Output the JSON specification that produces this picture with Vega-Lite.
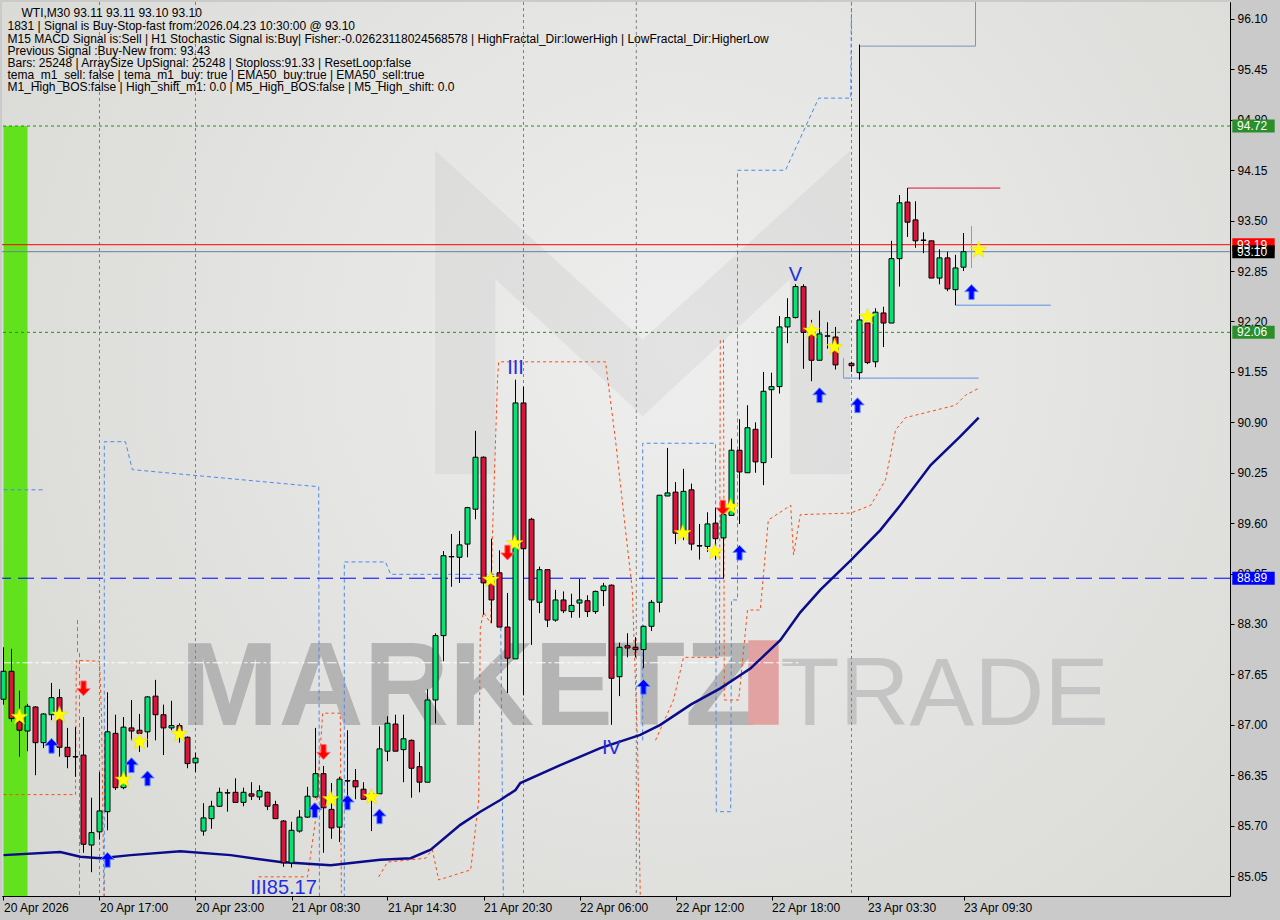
{
 "$schema": "https://vega.github.io/schema/vega-lite/v6.json",
 "width": 1228, "height": 894,
 "autosize": {"type": "none"},
 "padding": {"left": 2, "top": 2, "right": 50, "bottom": 24},
 "background": "#cacaca",
 "config": {
  "view": {"fill": "#d8d8d4", "stroke": "#000000", "strokeWidth": 1},
  "axis": {"grid": false, "domain": false, "labelFont": "Liberation Sans", "labelFontSize": 12, "labelColor": "#000000", "tickColor": "#000000", "tickSize": 4, "titleColor": "transparent", "titleFontSize": 1}
 },
 "datasets": {
  "candles": [
   {"i":0,"o":87.33,"h":88.00,"l":87.26,"c":87.69},{"i":1,"o":87.69,"h":87.98,"l":87.04,"c":87.08},{"i":2,"o":87.04,"h":87.44,"l":86.59,"c":86.93},{"i":3,"o":86.92,"h":87.27,"l":86.66,"c":87.24},{"i":4,"o":87.23,"h":87.24,"l":86.35,"c":86.77},{"i":5,"o":86.77,"h":87.15,"l":86.70,"c":87.14},{"i":6,"o":87.13,"h":87.54,"l":87.06,"c":87.35},{"i":7,"o":87.35,"h":87.46,"l":86.59,"c":86.71},{"i":8,"o":86.71,"h":86.96,"l":86.44,"c":86.59},{"i":9,"o":86.59,"h":86.97,"l":86.33,"c":86.585},
   {"i":10,"o":86.61,"h":87.10,"l":85.35,"c":85.46},{"i":11,"o":85.45,"h":86.06,"l":85.10,"c":85.61},{"i":12,"o":85.62,"h":86.39,"l":85.52,"c":85.89},{"i":13,"o":85.88,"h":87.42,"l":85.64,"c":86.91},{"i":14,"o":86.89,"h":87.13,"l":86.16,"c":86.19},{"i":15,"o":86.19,"h":87.10,"l":86.17,"c":86.97},{"i":16,"o":86.96,"h":87.32,"l":86.80,"c":86.92},{"i":17,"o":86.93,"h":87.14,"l":86.65,"c":86.89},{"i":18,"o":86.91,"h":87.37,"l":86.71,"c":87.36},{"i":19,"o":87.37,"h":87.58,"l":86.80,"c":87.13},
   {"i":20,"o":87.13,"h":87.26,"l":86.61,"c":86.96},{"i":21,"o":86.96,"h":87.31,"l":86.93,"c":86.99},{"i":22,"o":86.99,"h":87.02,"l":86.77,"c":86.92},{"i":23,"o":86.84,"h":86.85,"l":86.44,"c":86.50},{"i":24,"o":86.51,"h":86.64,"l":86.39,"c":86.57},{"i":25,"o":85.63,"h":85.99,"l":85.57,"c":85.80},{"i":26,"o":85.79,"h":86.02,"l":85.66,"c":85.95},{"i":27,"o":85.95,"h":86.19,"l":85.94,"c":86.13},{"i":28,"o":86.12,"h":86.17,"l":85.88,"c":86.125},{"i":29,"o":86.13,"h":86.31,"l":86.00,"c":86.00},
   {"i":30,"o":86.00,"h":86.19,"l":85.95,"c":86.13},{"i":31,"o":86.11,"h":86.26,"l":86.03,"c":86.08},{"i":32,"o":86.07,"h":86.22,"l":86.03,"c":86.15},{"i":33,"o":86.13,"h":86.14,"l":85.90,"c":85.95},{"i":34,"o":85.97,"h":86.02,"l":85.79,"c":85.79},{"i":35,"o":85.76,"h":85.77,"l":85.17,"c":85.22},{"i":36,"o":85.22,"h":85.75,"l":85.16,"c":85.64},{"i":37,"o":85.63,"h":85.90,"l":85.61,"c":85.81},{"i":38,"o":85.81,"h":86.20,"l":85.80,"c":86.08},{"i":39,"o":86.07,"h":86.96,"l":86.06,"c":86.37},
   {"i":40,"o":86.37,"h":86.47,"l":85.35,"c":85.93},{"i":41,"o":85.91,"h":86.25,"l":85.53,"c":85.67},{"i":42,"o":85.68,"h":86.33,"l":85.49,"c":86.30},{"i":43,"o":86.28,"h":86.93,"l":86.04,"c":86.275},{"i":44,"o":86.28,"h":86.43,"l":86.04,"c":86.20},{"i":45,"o":86.17,"h":86.26,"l":86.04,"c":86.04},{"i":46,"o":86.03,"h":86.16,"l":85.63,"c":86.11},{"i":47,"o":86.11,"h":86.98,"l":86.11,"c":86.69},{"i":48,"o":86.66,"h":87.11,"l":86.53,"c":87.02},{"i":49,"o":87.01,"h":87.13,"l":86.66,"c":86.66},
   {"i":50,"o":86.68,"h":87.13,"l":86.26,"c":86.82},{"i":51,"o":86.80,"h":86.81,"l":86.06,"c":86.44},{"i":52,"o":86.46,"h":86.65,"l":86.13,"c":86.26},{"i":53,"o":86.26,"h":87.46,"l":86.26,"c":87.32},{"i":54,"o":87.32,"h":88.18,"l":87.02,"c":88.15},{"i":55,"o":88.15,"h":89.24,"l":87.82,"c":89.18},{"i":56,"o":89.17,"h":89.46,"l":88.78,"c":89.165},{"i":57,"o":89.16,"h":89.50,"l":88.83,"c":89.32},{"i":58,"o":89.33,"h":89.81,"l":89.16,"c":89.80},{"i":59,"o":89.78,"h":90.79,"l":89.65,"c":90.45},
   {"i":60,"o":90.45,"h":90.46,"l":88.42,"c":88.83},{"i":61,"o":88.91,"h":89.40,"l":88.31,"c":88.61},{"i":62,"o":88.96,"h":89.25,"l":88.26,"c":88.26},{"i":63,"o":88.26,"h":88.70,"l":87.41,"c":87.86},{"i":64,"o":87.85,"h":91.45,"l":87.85,"c":91.15},{"i":65,"o":91.15,"h":91.36,"l":87.38,"c":89.27},{"i":66,"o":89.65,"h":89.67,"l":88.03,"c":88.61},{"i":67,"o":88.58,"h":89.04,"l":88.44,"c":89.00},{"i":68,"o":89.00,"h":89.00,"l":88.26,"c":88.35},{"i":69,"o":88.35,"h":88.74,"l":88.33,"c":88.61},
   {"i":70,"o":88.61,"h":88.72,"l":88.44,"c":88.47},{"i":71,"o":88.46,"h":88.69,"l":88.38,"c":88.54},{"i":72,"o":88.57,"h":88.88,"l":88.38,"c":88.61},{"i":73,"o":88.60,"h":88.67,"l":88.39,"c":88.46},{"i":74,"o":88.46,"h":88.73,"l":88.43,"c":88.72},{"i":75,"o":88.73,"h":88.83,"l":88.53,"c":88.79},{"i":76,"o":88.80,"h":88.81,"l":87.00,"c":87.60},{"i":77,"o":87.62,"h":88.06,"l":87.37,"c":88.00},{"i":78,"o":88.02,"h":88.18,"l":87.87,"c":87.99},{"i":79,"o":88.00,"h":88.13,"l":87.87,"c":87.97},
   {"i":80,"o":87.97,"h":88.28,"l":87.73,"c":88.27},{"i":81,"o":88.27,"h":88.61,"l":88.21,"c":88.58},{"i":82,"o":88.58,"h":89.96,"l":88.45,"c":89.96},{"i":83,"o":89.95,"h":90.57,"l":89.95,"c":89.99},{"i":84,"o":90.00,"h":90.13,"l":89.33,"c":89.47},{"i":85,"o":89.47,"h":90.30,"l":89.38,"c":90.01},{"i":86,"o":90.03,"h":90.11,"l":89.25,"c":89.33},{"i":87,"o":89.31,"h":89.59,"l":89.13,"c":89.305},{"i":88,"o":89.30,"h":89.74,"l":89.23,"c":89.59},{"i":89,"o":89.60,"h":89.80,"l":89.13,"c":89.40},
   {"i":90,"o":89.41,"h":89.71,"l":88.89,"c":89.71},{"i":91,"o":89.70,"h":90.69,"l":89.70,"c":90.54},{"i":92,"o":90.54,"h":90.94,"l":89.59,"c":90.26},{"i":93,"o":90.25,"h":91.12,"l":90.25,"c":90.83},{"i":94,"o":90.81,"h":90.90,"l":90.25,"c":90.39},{"i":95,"o":90.38,"h":91.55,"l":90.09,"c":91.30},{"i":96,"o":91.32,"h":91.54,"l":90.44,"c":91.36},{"i":97,"o":91.36,"h":92.27,"l":91.27,"c":92.13},{"i":98,"o":92.13,"h":92.50,"l":91.92,"c":92.25},{"i":99,"o":92.25,"h":92.68,"l":92.24,"c":92.65},
   {"i":100,"o":92.65,"h":92.68,"l":91.59,"c":92.06},{"i":101,"o":92.06,"h":92.22,"l":91.43,"c":91.70},{"i":102,"o":91.70,"h":92.34,"l":91.70,"c":92.04},{"i":103,"o":92.01,"h":92.19,"l":91.85,"c":92.015},{"i":104,"o":92.00,"h":92.13,"l":91.58,"c":91.64},{"i":106,"o":91.66,"h":91.68,"l":91.55,"c":91.63},{"i":107,"o":91.54,"h":95.77,"l":91.45,"c":92.22},{"i":108,"o":92.18,"h":92.18,"l":91.65,"c":91.67},{"i":109,"o":91.68,"h":92.37,"l":91.61,"c":92.32},
   {"i":110,"o":92.31,"h":92.39,"l":91.87,"c":92.18},{"i":111,"o":92.18,"h":93.24,"l":92.18,"c":93.01},{"i":112,"o":93.01,"h":93.83,"l":92.65,"c":93.73},{"i":113,"o":93.74,"h":93.92,"l":93.29,"c":93.48},{"i":114,"o":93.51,"h":93.75,"l":93.15,"c":93.24},{"i":115,"o":93.25,"h":93.35,"l":93.08,"c":93.245},{"i":116,"o":93.24,"h":93.24,"l":92.76,"c":92.76},{"i":117,"o":92.76,"h":93.13,"l":92.68,"c":93.02},{"i":118,"o":93.02,"h":93.10,"l":92.59,"c":92.62},{"i":119,"o":92.61,"h":93.06,"l":92.41,"c":92.89},
   {"i":120,"o":92.90,"h":93.34,"l":92.85,"c":93.10}
  ],
  "ema": [
   {"i":0,"p":85.32},{"i":7.1,"p":85.36},{"i":9.6,"p":85.30},{"i":12.1,"p":85.28},{"i":15.9,"p":85.32},{"i":22.1,"p":85.37},{"i":28.4,"p":85.32},{"i":34.6,"p":85.23},{"i":40.9,"p":85.19},{"i":47.1,"p":85.26},{"i":50.9,"p":85.28},{"i":53.4,"p":85.39},{"i":57.1,"p":85.71},{"i":59.6,"p":85.88},{"i":62.1,"p":86.03},{"i":64,"p":86.16},{"i":64.6,"p":86.25},{"i":69.6,"p":86.48},{"i":74.6,"p":86.70},{"i":79.6,"p":86.87},{"i":82.1,"p":87.0},{"i":85.9,"p":87.26},{"i":89.6,"p":87.47},{"i":93.4,"p":87.73},{"i":97.1,"p":88.09},{"i":99.6,"p":88.45},{"i":102.1,"p":88.74},{"i":105.9,"p":89.12},{"i":109.6,"p":89.51},{"i":112.1,"p":89.83},{"i":115.9,"p":90.35},{"i":119.6,"p":90.72},{"i":121.9,"p":90.96}
  ],
  "blue": [
   {"s":"b1","k":0,"i":0,"p":90.03},{"s":"b1","k":1,"i":4.9,"p":90.03},
   {"s":"b2","k":0,"i":9.25,"p":88.35},{"s":"b2","k":1,"i":9.25,"p":87.93},{"s":"b2","k":2,"i":9.5,"p":87.93},{"s":"b2","k":3,"i":9.5,"p":84.5},
   {"s":"b3","k":0,"i":12.6,"p":84.5},{"s":"b3","k":1,"i":12.6,"p":90.65},{"s":"b3","k":2,"i":15.25,"p":90.65},{"s":"b3","k":3,"i":16.1,"p":90.29},{"s":"b3","k":4,"i":37.1,"p":90.09},{"s":"b3","k":5,"i":39.4,"p":90.07},{"s":"b3","k":6,"i":39.5,"p":84.5},
   {"s":"b4","k":0,"i":42.6,"p":84.5},{"s":"b4","k":1,"i":42.6,"p":89.10},{"s":"b4","k":2,"i":47.75,"p":89.10},{"s":"b4","k":3,"i":48.4,"p":88.94},{"s":"b4","k":4,"i":62.1,"p":88.94},{"s":"b4","k":5,"i":62.5,"p":84.5},
   {"s":"b5","k":0,"i":79.9,"p":86.80},{"s":"b5","k":1,"i":79.9,"p":90.63},{"s":"b5","k":2,"i":89,"p":90.63},{"s":"b5","k":3,"i":89.1,"p":85.88},{"s":"b5","k":4,"i":90.9,"p":85.88},{"s":"b5","k":5,"i":91,"p":88.61},{"s":"b5","k":6,"i":91.75,"p":88.61},{"s":"b5","k":7,"i":91.75,"p":94.15},{"s":"b5","k":8,"i":97.75,"p":94.15},{"s":"b5","k":9,"i":101.9,"p":95.08},{"s":"b5","k":10,"i":105.9,"p":95.08},{"s":"b5","k":11,"i":106,"p":96.4}
  ],
  "orange": [
   {"s":"o1","k":0,"i":0,"p":86.10},{"s":"o1","k":1,"i":9,"p":86.10},{"s":"o1","k":2,"i":9.1,"p":87.83},{"s":"o1","k":3,"i":12,"p":87.82},{"s":"o1","k":4,"i":12.25,"p":87.15},{"s":"o1","k":5,"i":12.6,"p":84.5},
   {"s":"o2","k":0,"i":31.5,"p":84.5},{"s":"o2","k":1,"i":31.9,"p":85.04},{"s":"o2","k":2,"i":38,"p":85.04},{"s":"o2","k":3,"i":39,"p":85.77},{"s":"o2","k":4,"i":39.9,"p":87.15},{"s":"o2","k":5,"i":42.1,"p":87.15},{"s":"o2","k":6,"i":42.25,"p":84.5},
   {"s":"o3","k":0,"i":46.9,"p":85.04},{"s":"o3","k":1,"i":48,"p":85.23},{"s":"o3","k":2,"i":52.75,"p":85.28},{"s":"o3","k":3,"i":53.6,"p":85.39},{"s":"o3","k":4,"i":54.4,"p":85.0},{"s":"o3","k":5,"i":58.4,"p":85.13},{"s":"o3","k":6,"i":59.4,"p":86.03},{"s":"o3","k":7,"i":59.6,"p":88.25},{"s":"o3","k":8,"i":60,"p":88.45},{"s":"o3","k":9,"i":60.9,"p":88.31},{"s":"o3","k":10,"i":61.1,"p":89.38},{"s":"o3","k":11,"i":61.75,"p":91.45},{"s":"o3","k":12,"i":61.9,"p":91.68},{"s":"o3","k":13,"i":75.25,"p":91.68},{"s":"o3","k":14,"i":76.5,"p":90.67},{"s":"o3","k":15,"i":77.75,"p":89.51},{"s":"o3","k":16,"i":78.6,"p":88.74},{"s":"o3","k":17,"i":79.25,"p":86.80},{"s":"o3","k":18,"i":79.6,"p":84.77},
   {"s":"o4","k":0,"i":81.5,"p":86.80},{"s":"o4","k":1,"i":83.75,"p":87.32},{"s":"o4","k":2,"i":85,"p":87.87},{"s":"o4","k":3,"i":89.5,"p":87.87},{"s":"o4","k":4,"i":89.6,"p":91.96},{"s":"o4","k":5,"i":90,"p":91.96},{"s":"o4","k":6,"i":90.1,"p":87.32},{"s":"o4","k":7,"i":91.9,"p":87.32},{"s":"o4","k":8,"i":93,"p":88.48},{"s":"o4","k":9,"i":94.6,"p":88.48},{"s":"o4","k":10,"i":95.6,"p":89.64},{"s":"o4","k":11,"i":98.4,"p":89.83},{"s":"o4","k":12,"i":98.75,"p":89.19},{"s":"o4","k":13,"i":99.6,"p":89.71},{"s":"o4","k":14,"i":105.9,"p":89.73},{"s":"o4","k":15,"i":108.4,"p":89.83},{"s":"o4","k":16,"i":110.25,"p":90.16},{"s":"o4","k":17,"i":111.5,"p":90.80},{"s":"o4","k":18,"i":112.75,"p":90.96},{"s":"o4","k":19,"i":119,"p":91.12},{"s":"o4","k":20,"i":120.25,"p":91.25},{"s":"o4","k":21,"i":121.9,"p":91.34}
  ],
  "stars": [
   {"i":2,"p":87.10},{"i":7,"p":87.13},{"i":15,"p":86.29},{"i":17,"p":86.78},{"i":22,"p":86.88},{"i":40.9,"p":86.04},{"i":46,"p":86.07},{"i":60.9,"p":88.87},{"i":63.9,"p":89.34},{"i":84.9,"p":89.47},{"i":88.9,"p":89.23},{"i":90.9,"p":89.81},{"i":101,"p":92.08},{"i":103.9,"p":91.87},{"i":108,"p":92.26},{"i":121.9,"p":93.12}
  ],
  "up": [
   {"i":6,"p":86.73},{"i":16,"p":86.48},{"i":18,"p":86.31},{"i":13,"p":85.26},{"i":38.9,"p":85.90},{"i":43,"p":86.00},{"i":47,"p":85.82},{"i":80,"p":87.49},{"i":92,"p":89.22},{"i":102,"p":91.25},{"i":106.75,"p":91.12},{"i":121,"p":92.58}
  ],
  "down": [
   {"i":10,"p":87.47},{"i":40,"p":86.65},{"i":63,"p":89.22},{"i":89.9,"p":89.80}
  ],
  "boxes": [
   {"p":94.72,"t":"94.72","k":"green"},{"p":93.19,"t":"93.19","k":"red"},{"p":93.10,"t":"93.10","k":"black"},{"p":92.06,"t":"92.06","k":"green"},{"p":88.89,"t":"88.89","k":"blue"}
  ]
 },
 "layer": [
  {
   "data": {"name": "candles"},
   "mark": {"type": "rule", "color": "#000000", "strokeWidth": 1, "opacity": 0},
   "encoding": {
    "x": {"field": "i", "type": "quantitative", "scale": {"domain": [-0.1875, 153.3125], "nice": false, "zero": false, "padding": 0},
     "axis": {"orient": "bottom", "title": null, "values": [0, 12, 24, 36, 48, 60, 72, 84, 96, 108, 120], "labelExpr": "['20 Apr 2026','20 Apr 17:00','20 Apr 23:00','21 Apr 08:30','21 Apr 14:30','21 Apr 20:30','22 Apr 06:00','22 Apr 12:00','22 Apr 18:00','23 Apr 03:30','23 Apr 09:30'][round(datum.value/12)]", "labelAlign": "left", "labelPadding": 2, "labelFlush": false, "labelOverlap": false}},
    "y": {"field": "l", "type": "quantitative", "scale": {"domain": [84.793, 96.319], "nice": false, "zero": false, "padding": 0},
     "axis": {"orient": "right", "title": null, "values": [85.05, 85.7, 86.35, 87.0, 87.65, 88.3, 88.95, 89.6, 90.25, 90.9, 91.55, 92.2, 92.85, 93.5, 94.15, 94.8, 95.45, 96.1], "format": ".2f", "labelPadding": 3, "labelOverlap": false}},
    "y2": {"field": "h"}
   }
  },
  {
   "data": {"values": [{}]},
   "mark": {"type": "rect", "fill": {"gradient": "radial", "x1": 0.55, "y1": 0.42, "x2": 0.55, "y2": 0.42, "r1": 0, "r2": 0.75, "stops": [{"offset": 0, "color": "#eeeeee"}, {"offset": 1, "color": "#d6d6d2"}]}},
   "encoding": {
    "x": {"datum": -0.1875, "type": "quantitative"}, "x2": {"datum": 153.3125},
    "y": {"datum": 84.793, "type": "quantitative"}, "y2": {"datum": 96.319}
   }
  },
  {
   "data": {"values": [{}]},
   "mark": {"type": "point", "shape": "M-1,-0.73L0,0.18L1,-0.73L1,0.83L0.71,0.83L0.71,-0.11L0,0.55L-0.71,-0.11L-0.71,0.83L-1,0.83Z", "filled": true, "fill": "#000000", "opacity": 0.045, "size": 172225},
   "encoding": {"x": {"datum": 79.9, "type": "quantitative"}, "y": {"datum": 92.45, "type": "quantitative"}}
  },
  {
   "data": {"values": [{}]},
   "mark": {"type": "text", "text": "MARKETZ", "font": "Liberation Sans", "fontWeight": "bold", "fontSize": 118, "align": "left", "baseline": "alphabetic", "fill": "#b4b4b4"},
   "encoding": {"x": {"datum": 22.1, "type": "quantitative"}, "y": {"datum": 87.0, "type": "quantitative"}}
  },
  {
   "data": {"values": [{}]},
   "mark": {"type": "rect", "fill": "#e2a2a2"},
   "encoding": {"x": {"datum": 93.1, "type": "quantitative"}, "x2": {"datum": 96.9}, "y": {"datum": 87.0, "type": "quantitative"}, "y2": {"datum": 88.09}}
  },
  {
   "data": {"values": [{}]},
   "mark": {"type": "text", "text": "TRADE", "font": "Liberation Sans", "fontSize": 97, "align": "left", "baseline": "alphabetic", "fill": "#c4c4c4"},
   "encoding": {"x": {"datum": 97.1, "type": "quantitative"}, "y": {"datum": 87.0, "type": "quantitative"}}
  },
  {
   "data": {"values": [{}]},
   "mark": {"type": "rect", "fill": "#62e21c"},
   "encoding": {"x": {"datum": 0, "type": "quantitative"}, "x2": {"datum": 3}, "y": {"datum": 84.793, "type": "quantitative"}, "y2": {"datum": 94.72}}
  },
  {
   "data": {"values": [{"i": 12}, {"i": 24}, {"i": 65}, {"i": 79.1}, {"i": 106}]},
   "mark": {"type": "rule", "color": "#808080", "strokeDash": [3, 3], "strokeWidth": 1},
   "encoding": {"x": {"field": "i", "type": "quantitative"}}
  },
  {
   "data": {"values": [{"p": 87.80}]},
   "mark": {"type": "rule", "color": "#ffffff", "strokeDash": [10, 3, 3, 3], "strokeWidth": 1},
   "encoding": {"x": {"datum": 0, "type": "quantitative"}, "x2": {"datum": 99.6}, "y": {"field": "p", "type": "quantitative"}}
  },
  {
   "data": {"name": "blue"},
   "mark": {"type": "line", "color": "#4f87ec", "strokeWidth": 1, "strokeDash": [4, 3], "clip": true},
   "encoding": {"x": {"field": "i", "type": "quantitative"}, "y": {"field": "p", "type": "quantitative"}, "detail": {"field": "s"}, "order": {"field": "k"}}
  },
  {
   "data": {"values": [{"s": "g", "k": 0, "i": 107, "p": 95.75}, {"s": "g", "k": 1, "i": 121.5, "p": 95.75}, {"s": "g", "k": 2, "i": 121.5, "p": 96.4}]},
   "mark": {"type": "line", "color": "#7f93b5", "strokeWidth": 1, "clip": true},
   "encoding": {"x": {"field": "i", "type": "quantitative"}, "y": {"field": "p", "type": "quantitative"}, "detail": {"field": "s"}, "order": {"field": "k"}}
  },
  {
   "data": {"name": "orange"},
   "mark": {"type": "line", "color": "#ff4a12", "strokeWidth": 1, "strokeDash": [3, 3], "clip": true},
   "encoding": {"x": {"field": "i", "type": "quantitative"}, "y": {"field": "p", "type": "quantitative"}, "detail": {"field": "s"}, "order": {"field": "k"}}
  },
  {
   "data": {"values": [{"p": 94.72}, {"p": 92.06}]},
   "mark": {"type": "rule", "color": "#1f8f1f", "strokeDash": [3, 3], "strokeWidth": 1},
   "encoding": {"y": {"field": "p", "type": "quantitative"}}
  },
  {
   "data": {"values": [{"p": 88.89}]},
   "mark": {"type": "rule", "color": "#0000ff", "strokeDash": [16, 7], "strokeWidth": 1},
   "encoding": {"y": {"field": "p", "type": "quantitative"}}
  },
  {
   "data": {"values": [{"p": 93.19}]},
   "mark": {"type": "rule", "color": "#ff0000", "strokeWidth": 1},
   "encoding": {"y": {"field": "p", "type": "quantitative"}}
  },
  {
   "data": {"values": [{"p": 93.10}]},
   "mark": {"type": "rule", "color": "#6a7f9a", "strokeWidth": 1},
   "encoding": {"y": {"field": "p", "type": "quantitative"}}
  },
  {
   "data": {"name": "ema"},
   "mark": {"type": "line", "color": "#0c0c8a", "strokeWidth": 2.5},
   "encoding": {"x": {"field": "i", "type": "quantitative"}, "y": {"field": "p", "type": "quantitative"}}
  },
  {
   "data": {"values": [{"a": 113, "b": 124.6, "p": 93.92}]},
   "mark": {"type": "rule", "color": "#e0103a", "strokeWidth": 1},
   "encoding": {"x": {"field": "a", "type": "quantitative"}, "x2": {"field": "b"}, "y": {"field": "p", "type": "quantitative"}}
  },
  {
   "data": {"values": [{"a": 119, "b": 130.9, "p": 92.41}, {"a": 105, "b": 121.9, "p": 91.47}]},
   "mark": {"type": "rule", "color": "#5b8de8", "strokeWidth": 1},
   "encoding": {"x": {"field": "a", "type": "quantitative"}, "x2": {"field": "b"}, "y": {"field": "p", "type": "quantitative"}}
  },
  {
   "data": {"values": [{"i": 105, "lo": 91.47, "hi": 91.73}, {"i": 121, "lo": 92.89, "hi": 93.43}]},
   "mark": {"type": "rule", "color": "#66cc33", "strokeWidth": 1},
   "encoding": {"x": {"field": "i", "type": "quantitative"}, "y": {"field": "lo", "type": "quantitative"}, "y2": {"field": "hi"}}
  },
  {
   "data": {"name": "candles"},
   "mark": {"type": "rule", "color": "#000000", "strokeWidth": 1},
   "encoding": {
    "x": {"field": "i", "type": "quantitative"},
    "y": {"field": "l", "type": "quantitative"},
    "y2": {"field": "h"}
   }
  },
  {
   "data": {"name": "candles"},
   "mark": {"type": "bar", "width": 5, "stroke": "#000000", "strokeWidth": 1},
   "encoding": {
    "x": {"field": "i", "type": "quantitative"},
    "y": {"field": "o", "type": "quantitative"},
    "y2": {"field": "c"},
    "fill": {"condition": {"test": "datum.c >= datum.o", "value": "#00e676"}, "value": "#dc143c"}
   }
  },
  {
   "data": {"name": "stars"},
   "mark": {"type": "point", "shape": "M0,-1L0.24,-0.33L0.95,-0.31L0.38,0.12L0.59,0.81L0,0.4L-0.59,0.81L-0.38,0.12L-0.95,-0.31L-0.24,-0.33Z", "filled": true, "fill": "#ffff00", "stroke": "#e8d800", "strokeWidth": 0.5, "opacity": 1, "size": 300},
   "encoding": {"x": {"field": "i", "type": "quantitative"}, "y": {"field": "p", "type": "quantitative"}}
  },
  {
   "data": {"name": "up"},
   "mark": {"type": "point", "shape": "M0,-1L0.9,-0.05L0.35,-0.05L0.35,1L-0.35,1L-0.35,-0.05L-0.9,-0.05Z", "filled": true, "fill": "#0000ff", "stroke": "#5a8cff", "strokeWidth": 1, "opacity": 1, "size": 220},
   "encoding": {"x": {"field": "i", "type": "quantitative"}, "y": {"field": "p", "type": "quantitative"}}
  },
  {
   "data": {"name": "down"},
   "mark": {"type": "point", "shape": "M0,1L0.9,0.05L0.35,0.05L0.35,-1L-0.35,-1L-0.35,0.05L-0.9,0.05Z", "filled": true, "fill": "#ff0000", "stroke": "#ff6a6a", "strokeWidth": 1, "opacity": 1, "size": 220},
   "encoding": {"x": {"field": "i", "type": "quantitative"}, "y": {"field": "p", "type": "quantitative"}}
  },
  {
   "data": {"values": [{"i": 99, "p": 92.80, "t": "V"}, {"i": 76, "p": 86.70, "t": "IV"}, {"i": 64, "p": 91.60, "t": "III"}, {"i": 35, "p": 84.90, "t": "III85.17"}]},
   "mark": {"type": "text", "font": "Liberation Sans", "fontSize": 20, "color": "#1f2fe0", "align": "center", "baseline": "middle"},
   "encoding": {"x": {"field": "i", "type": "quantitative"}, "y": {"field": "p", "type": "quantitative"}, "text": {"field": "t"}}
  },
  {
   "data": {"name": "boxes"},
   "mark": {"type": "rect", "height": 13},
   "encoding": {
    "x": {"datum": 153.6, "type": "quantitative"}, "x2": {"datum": 158.9},
    "y": {"field": "p", "type": "quantitative"},
    "color": {"field": "k", "type": "nominal", "scale": {"domain": ["green", "red", "black", "blue"], "range": ["#2a8f2a", "#ff0000", "#000000", "#0000ff"]}, "legend": null}
   }
  },
  {
   "data": {"name": "boxes"},
   "mark": {"type": "text", "font": "Liberation Sans", "fontSize": 12, "align": "left", "baseline": "middle", "color": "#ffffff"},
   "encoding": {"x": {"datum": 154.2, "type": "quantitative"}, "y": {"field": "p", "type": "quantitative"}, "text": {"field": "t"}}
  },
  {
   "data": {"values": [{}]},
   "mark": {"type": "text", "font": "Liberation Sans", "fontSize": 12, "align": "left", "baseline": "top", "color": "#000000", "text": "WTI,M30  93.11 93.11 93.10 93.10"},
   "encoding": {"x": {"datum": 2.25, "type": "quantitative"}, "y": {"datum": 96.24, "type": "quantitative"}}
  },
  {
   "data": {"values": [{}]},
   "mark": {"type": "text", "font": "Liberation Sans", "fontSize": 12, "align": "left", "baseline": "top", "lineHeight": 12.2, "color": "#000000", "text": ["1831 | Signal is Buy-Stop-fast from:2026.04.23 10:30:00 @ 93.10", "M15 MACD Signal is:Sell | H1 Stochastic Signal is:Buy| Fisher:-0.02623118024568578 | HighFractal_Dir:lowerHigh | LowFractal_Dir:HigherLow", "Previous Signal :Buy-New from: 93.43", "Bars: 25248 | ArraySize UpSignal: 25248 | Stoploss:91.33 | ResetLoop:false", "tema_m1_sell: false | tema_m1_buy: true | EMA50_buy:true | EMA50_sell:true", "M1_High_BOS:false | High_shift_m1: 0.0 | M5_High_BOS:false | M5_High_shift: 0.0"]},
   "encoding": {"x": {"datum": 0.5, "type": "quantitative"}, "y": {"datum": 96.07, "type": "quantitative"}}
  }
 ]
}
